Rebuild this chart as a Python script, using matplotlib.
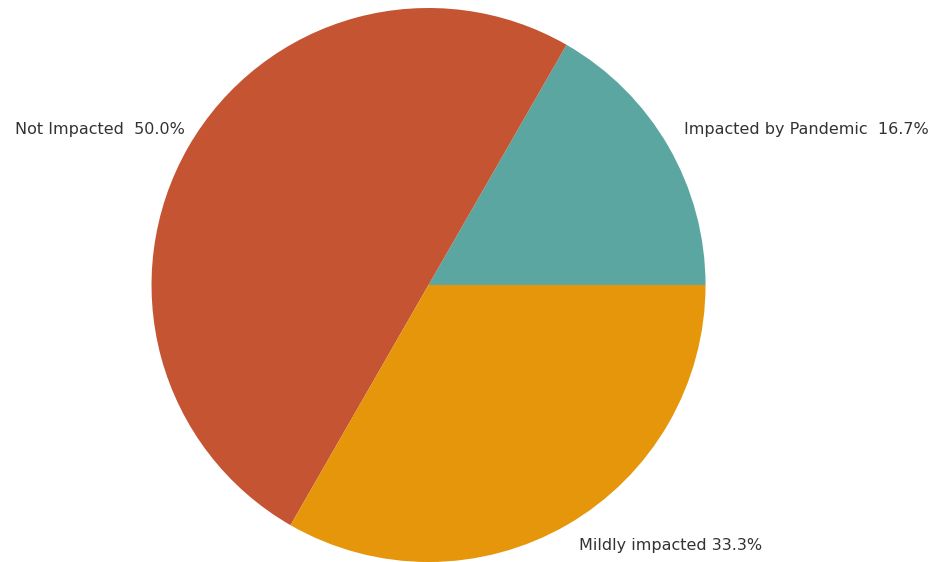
import numpy as np
import matplotlib.pyplot as plt

# share of respondents per impact category
categories = ["Impacted by Pandemic", "Not Impacted", "Mildly impacted"]
values = [16.7, 50.0, 33.3]
gaps = ["  ", "  ", " "]
colors = ["#5CA6A1", "#C45432", "#E5960A"]

labels = [f"{c}{g}{v:.1f}%" for c, g, v in zip(categories, gaps, values)]
label_dist = [1.08, 1.043, 1.087]
label_turn = [1.3, -2.6, 0.0]  # degrees added to the wedge mid-angle

fig = plt.figure(figsize=(9.33, 5.62), dpi=100)
ax = fig.add_axes([0.1624, 0.0, 0.5938, 0.9858])

wedges, _ = ax.pie(values, colors=colors, startangle=0, counterclock=True)

# labels placed just outside each wedge, aligned away from the pie
for w, lab, d, t in zip(wedges, labels, label_dist, label_turn):
    ang = np.deg2rad((w.theta1 + w.theta2) / 2 + t)
    x, y = d * np.cos(ang), d * np.sin(ang)
    ax.text(x, y, lab, ha="left" if x > 0 else "right", va="center",
            fontsize=11.5, color="#333333", family="DejaVu Sans")

ax.set_xlim(-1, 1)
ax.set_ylim(-1, 1)

fig.savefig("out.png", dpi=100)
